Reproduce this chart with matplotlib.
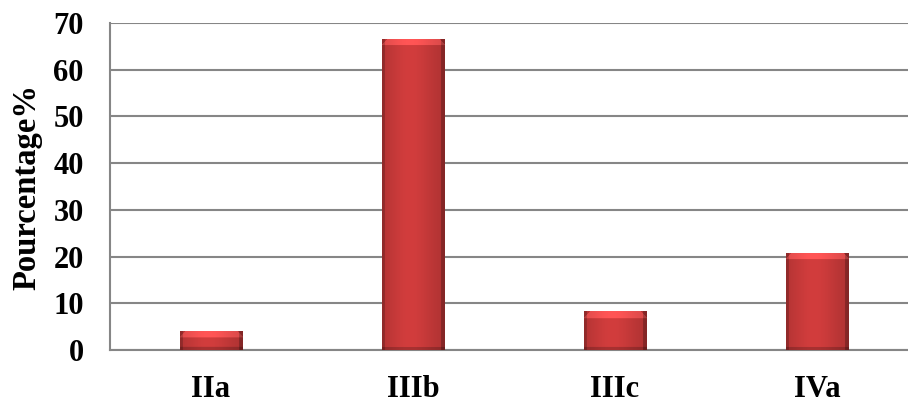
import numpy as np
import matplotlib.pyplot as plt

categories = ['IIa', 'IIIb', 'IIIc', 'IVa']
values = [4.17, 66.67, 8.33, 20.83]

plt.rcParams['font.family'] = 'Liberation Serif'
plt.rcParams['font.weight'] = 'bold'

fig = plt.figure(figsize=(9.08, 4.03), dpi=100)
ax = fig.add_axes([110 / 908, 53 / 403, 808 / 908, 327 / 403])

x = np.arange(len(categories))
bars = ax.bar(x, values, width=0.31, color='#c83a3a', edgecolor='#7a1e1e',
              linewidth=0.6, zorder=3)

# shaded fill for each bar: darker sides, lighter bevel on top
base = np.array([200, 58, 58]) / 255.0
for rect, v in zip(bars, values):
    ncols = 64
    nrows = max(int(v * 4.67), 8)
    cols = np.linspace(0, 1, ncols)
    shade = 0.85 + 0.2 * np.exp(-((cols - 0.45) / 0.4) ** 2)
    shade[:3] *= 0.8
    shade[-4:] *= 0.75
    img = np.ones((nrows, ncols, 3)) * base * shade[None, :, None]
    # top bevel, narrowing towards the face of the bar
    for k in range(7):
        a = 6 - k
        img[nrows - 1 - k, a:ncols - a, :] = np.clip(
            img[nrows - 1 - k, a:ncols - a, :] * 1.15 + 0.06, 0, 1)
    img[:3, :, :] *= 0.8
    img = np.clip(img, 0, 1)
    x0 = rect.get_x()
    x1 = x0 + rect.get_width()
    im = ax.imshow(img, extent=[x0, x1, 0, v], origin='lower',
                   aspect='auto', zorder=3, interpolation='bilinear')
    im.set_clip_path(rect)

ax.set_xlim(-0.5, 3.5)
ax.set_ylim(0, 70)
ax.set_yticks(np.arange(0, 71, 10))
ax.set_xticks(x)
ax.set_xticklabels(categories)
ax.grid(axis='y', color='#868686', linewidth=1.5, zorder=0)
ax.set_axisbelow(True)

for side in ['top', 'right']:
    ax.spines[side].set_visible(False)
for side in ['left', 'bottom']:
    ax.spines[side].set_color('#868686')
    ax.spines[side].set_linewidth(1.5)

ax.tick_params(axis='both', length=0, labelsize=22)
ax.tick_params(axis='y', pad=19)
ax.tick_params(axis='x', pad=18)
ax.set_ylabel('Pourcentage%', fontsize=23.5, fontweight='bold', labelpad=8)

fig.savefig('out.png', dpi=100)
